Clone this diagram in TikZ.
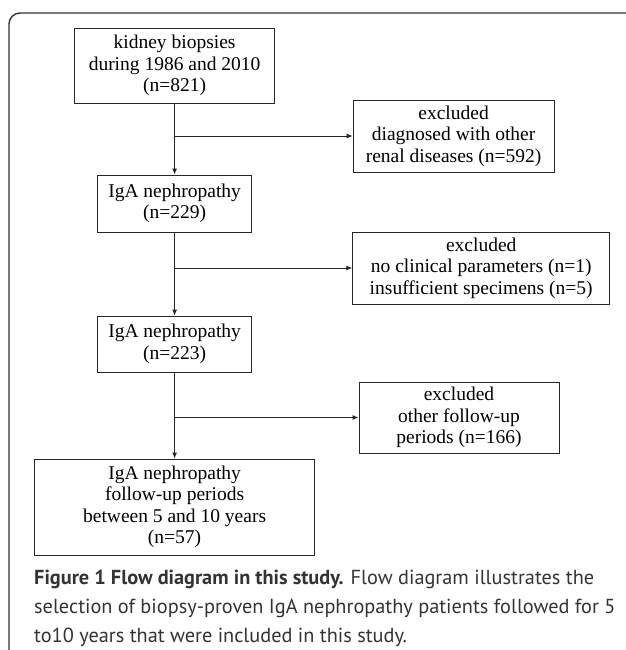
\documentclass[tikz,border=0pt]{standalone}
\usepackage{fontspec}
\setmainfont{Liberation Serif}
\newfontfamily\diagfont{Liberation Serif}
\newfontfamily\capfont{PT Sans}
\usetikzlibrary{arrows.meta}
\begin{document}
\begin{tikzpicture}[x=1pt,y=-1pt,
  boxstyle/.style={draw=black!85, line width=0.9pt, inner sep=0pt, align=center,
    font=\diagfont\fontsize{19.5}{21.5}\selectfont},
  flowarrow/.style={draw=black!85, line width=0.9pt, -{Latex[length=6pt,width=5pt]}},
  frame/.style={draw=black!80, line width=1.4pt, rounded corners=11pt}]
\useasboundingbox (0,0) rectangle (625,650);
% outer frame
\draw[frame] (9,660) -- (9,13) -- (640,13);
% boxes
\node[boxstyle, minimum width=200pt, minimum height=75pt] (b1) at (174.6,65.5)
  {kidney biopsies\\during 1986 and 2010\\(n=821)};
\node[boxstyle, minimum width=201pt, minimum height=72pt] (e1) at (453.6,136)
  {excluded\\diagnosed with other\\renal diseases (n=592)};
\node[boxstyle, minimum width=154pt, minimum height=57pt] (b2) at (174.6,203.5)
  {IgA nephropathy\\(n=229)};
\node[boxstyle, minimum width=257pt, minimum height=72pt] (e2) at (481.2,268)
  {excluded\\no clinical parameters (n=1)\\insufficient specimens (n=5)};
\node[boxstyle, minimum width=154pt, minimum height=56pt] (b3) at (174.6,344)
  {IgA nephropathy\\(n=223)};
\node[boxstyle, minimum width=200pt, minimum height=71pt] (e3) at (459,417.5)
  {excluded\\other follow-up\\periods (n=166)};
\node[boxstyle, minimum width=280pt, minimum height=96pt] (b4) at (174.6,507)
  {IgA nephropathy\\follow-up periods\\between 5 and 10 years\\(n=57)};
% connectors
\coordinate (j1) at (b1.south |- e1.west);
\coordinate (j2) at (b2.south |- e2.west);
\coordinate (j3) at (b3.south |- e3.west);
\draw[flowarrow] (b1.south) -- (b2.north);
\draw[flowarrow] (j1) -- (e1.west);
\draw[flowarrow] (b2.south) -- (b3.north);
\draw[flowarrow] (j2) -- (e2.west);
\draw[flowarrow] (b3.south) -- (b4.north);
\draw[flowarrow] (j3) -- (e3.west);
% caption
\node[anchor=north west, inner sep=0pt, align=left, text=black!80,
  font=\capfont\fontsize{20.3}{29}\selectfont] (cap) at (34,570)
  {\textbf{Figure 1 Flow diagram in this study.} Flow diagram illustrates the\\
   selection of biopsy-proven IgA nephropathy patients followed for 5\\
   to10 years that were included in this study.};
\end{tikzpicture}
\end{document}
